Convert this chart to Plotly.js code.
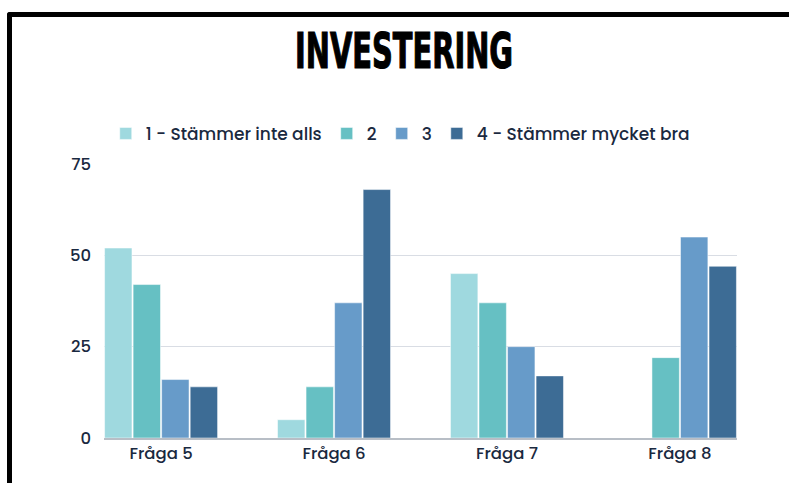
<!DOCTYPE html>
<html>
<head>
<meta charset="utf-8">
<script src="https://cdn.plot.ly/plotly-3.0.1.min.js"></script>
<style>
html,body{margin:0;padding:0;background:#fff;overflow:hidden;}
#wrap{position:relative;width:789px;height:483px;}
#chart{position:absolute;left:0;top:0;width:789px;height:483px;}
#frame{position:absolute;left:7px;top:12px;width:820px;height:520px;border-top:5px solid #000;border-left:5px solid #000;border-top-left-radius:3px;pointer-events:none;}
</style>
</head>
<body>
<div id="wrap"><div id="chart"></div><div id="frame"></div></div>
<script>
const categories = ["Fråga 5", "Fråga 6", "Fråga 7", "Fråga 8"];
const seriesNames = ["1 - Stämmer inte alls", "2", "3", "4 - Stämmer mycket bra"];
const series1 = [52, 5, 45, 0];
const series2 = [42, 14, 37, 22];
const series3 = [16, 37, 25, 55];
const series4 = [14, 68, 17, 47];
const yTicks = [0, 25, 50, 75];

const colors = ["#9fd9df", "#66c0c3", "#679bc9", "#3d6c95"];
const allValues = [series1, series2, series3, series4];

const traces = allValues.map((vals, i) => ({
  type: "bar",
  name: seriesNames[i],
  x: categories,
  y: vals,
  marker: {color: colors[i], line: {color: "rgba(255,255,255,0.5)", width: 1}},
  hoverinfo: "skip"
}));

const textColor = "#1a2940";
const font = "Poppins, Inter, 'Open Sans', sans-serif";
const layout = {
  width: 789, height: 483,
  margin: {l: 104, r: 52, t: 164, b: 45, pad: 0},
  paper_bgcolor: "rgba(0,0,0,0)",
  plot_bgcolor: "rgba(0,0,0,0)",
  barmode: "group",
  bargap: 0.34,
  bargroupgap: 0.04,
  title: {
    text: "INVESTERING",
    font: {family: "'DejaVu Sans Condensed', 'Liberation Sans', sans-serif", size: 50, color: "#000", weight: 700},
    x: 0.474, xanchor: "center", xref: "paper",
    y: 0.895, yanchor: "middle"
  },
  showlegend: true,
  legend: {
    orientation: "h",
    x: 0.468, xanchor: "center",
    y: 1.11, yanchor: "middle",
    font: {family: font, size: 17, color: textColor, weight: 500},
    itemwidth: 30,
    traceorder: "normal"
  },
  xaxis: {
    type: "category",
    range: [-0.33, 3.33],
    showgrid: false,
    showline: true, linecolor: "#b8bec6", linewidth: 1.5,
    ticks: "",
    tickfont: {family: font, size: 16.5, color: textColor, weight: 500},
    fixedrange: true
  },
  yaxis: {
    range: [0, 75],
    tickvals: yTicks,
    ticktext: yTicks.map(String),
    showgrid: true, gridcolor: "#d9dde4", gridwidth: 1.3,
    zeroline: false,
    showline: false,
    ticks: "",
    ticklabelstandoff: 12,
    tickfont: {family: font, size: 16.5, color: textColor, weight: 500},
    fixedrange: true
  }
};

Plotly.newPlot("chart", traces, layout, {displayModeBar: false, staticPlot: true}).then(() => {
  const t = document.querySelector("#chart .gtitle");
  if (t) {
    t.setAttribute("textLength", "218");
    t.setAttribute("lengthAdjust", "spacingAndGlyphs");
    t.style.stroke = "#000";
    t.style.strokeWidth = "1.2px";
  }
});
</script>
</body>
</html>
